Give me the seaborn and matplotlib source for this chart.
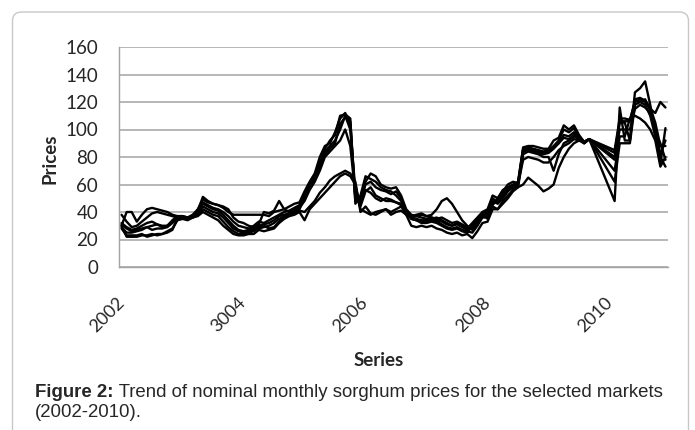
import numpy as np
import pandas as pd
import matplotlib
matplotlib.use("Agg")
import matplotlib.pyplot as plt
import seaborn as sns
from matplotlib.patches import FancyBboxPatch
from matplotlib.transforms import IdentityTransform

nan = np.nan

# monthly categories Jan 2002 .. Dec 2010 (gaps = missing months)
months = pd.date_range("2002-01-01", periods=108, freq="MS")
year_labels = ["2002", "3004", "2006", "2008", "2010"]

market_1 = [30, 40, 40, 33, 38, 42, 43, 42, 41, 40, 38, 37,
            37, 36, 38, 42, 49, 47, 46, 45, 43, 40, 38, 38,
            38, 38, 38, 38, 38, 37, 40, 41, 42, 44, 46, 47,
            55, 62, 68, 80, 88, 90, 98, 108, 112, 104, 50, 46,
            62, 68, 66, 60, 58, 57, 58, 52, 42, 38, 37, 36,
            35, 36, 34, 33, 31, 30, 31, 29, 27, 30, 34, 38,
            38, 45, 50, 56, 58, 60, 62, 87, 88, 88, 87, 86,
            86, 92, 94, 103, 100, 103, 96, 91, 93, nan, nan, nan,
            nan, 48, 116, 92, 92, 127, 130, 135, 118, 100, 75, 101]
market_2 = [38, 33, 29, 30, 33, 36, 39, 40, 39, 38, 37, 36,
            36, 36, 37, 41, 51, 48, 46, 45, 44, 42, 36, 33,
            32, 30, 29, 31, 40, 39, 41, 48, 42, 40, 42, 44,
            52, 60, 66, 76, 86, 92, 96, 110, 111, 108, 46, 52,
            66, 64, 62, 58, 56, 55, 52, 48, 40, 36, 35, 34,
            34, 35, 36, 34, 32, 30, 32, 30, 28, 32, 36, 40,
            42, 52, 50, 55, 60, 62, 61, 86, 87, 86, 85, 84,
            85, 88, 92, 100, 98, 101, 94, 90, 93, nan, nan, nan,
            nan, 85, 108, 108, 107, 120, 122, 120, 115, 112, 120, 116]
market_3 = [31, 28, 26, 27, 28, 29, 30, 31, 30, 30, 33, 36,
            36, 35, 37, 40, 46, 44, 42, 41, 38, 34, 30, 27,
            26, 27, 28, 30, 31, 32, 34, 37, 38, 39, 41, 43,
            48, 56, 62, 70, 80, 84, 88, 92, 100, 88, 52, 44,
            55, 58, 52, 50, 48, 48, 47, 45, 38, 30, 29, 30,
            29, 30, 28, 27, 25, 24, 25, 23, 24, 21, 26, 32,
            33, 42, 42, 46, 50, 55, 58, 82, 84, 83, 82, 80,
            80, 70, 82, 90, 92, 95, 93, 91, 93, nan, nan, nan,
            nan, 62, 90, 90, 90, 118, 120, 118, 110, 95, 80, 73]
market_4 = [29, 25, 25, 26, 27, 29, 27, 28, 28, 29, 32, 35,
            35, 34, 36, 39, 44, 42, 40, 39, 36, 32, 28, 26,
            25, 26, 27, 28, 29, 30, 32, 35, 37, 38, 40, 42,
            50, 58, 64, 74, 84, 88, 92, 100, 110, 100, 56, 48,
            60, 62, 58, 56, 55, 53, 55, 50, 40, 35, 34, 33,
            33, 34, 33, 31, 29, 28, 29, 27, 26, 25, 30, 36,
            36, 48, 46, 50, 55, 58, 60, 84, 85, 84, 83, 82,
            83, 86, 90, 96, 95, 98, 94, 90, 93, nan, nan, nan,
            nan, 78, 105, 105, 92, 122, 123, 121, 116, 105, 88, 88]
market_5 = [30, 22, 22, 22, 23, 23, 24, 23, 24, 25, 27, 35,
            36, 35, 36, 37, 40, 38, 36, 34, 30, 27, 24, 23,
            23, 24, 24, 27, 26, 27, 28, 32, 35, 37, 38, 40,
            34, 42, 46, 50, 54, 58, 62, 66, 68, 66, 60, 42,
            40, 38, 40, 41, 42, 40, 42, 44, 39, 37, 38, 39,
            37, 38, 42, 48, 50, 46, 40, 34, 30, 27, 32, 40,
            40, 46, 48, 52, 56, 58, 58, 60, 65, 62, 59, 55,
            57, 60, 72, 80, 86, 90, 92, 91, 93, nan, nan, nan,
            nan, 70, 95, 95, 108, 110, 108, 105, 100, 92, 73, 80]
market_6 = [28, 23, 23, 23, 24, 22, 23, 24, 24, 26, 28, 34,
            35, 35, 36, 38, 42, 40, 38, 37, 33, 29, 26, 24,
            24, 25, 26, 29, 30, 28, 29, 33, 36, 38, 39, 41,
            40, 44, 48, 54, 58, 63, 66, 68, 70, 68, 62, 40,
            44, 39, 38, 40, 42, 38, 40, 41, 38, 36, 37, 38,
            37, 36, 35, 36, 34, 32, 33, 31, 29, 28, 31, 37,
            40, 44, 42, 48, 52, 56, 60, 78, 80, 79, 78, 76,
            76, 80, 85, 88, 90, 93, 92, 90, 93, nan, nan, nan,
            nan, 80, 100, 100, 100, 115, 118, 116, 112, 98, 90, 78]
market_7 = [32, 29, 27, 28, 30, 32, 33, 31, 29, 30, 34, 37,
            37, 36, 37, 40, 47, 45, 43, 42, 40, 37, 33, 30,
            29, 28, 30, 33, 32, 34, 36, 38, 40, 41, 43, 45,
            53, 60, 65, 72, 82, 86, 90, 104, 109, 106, 48, 50,
            56, 54, 50, 48, 50, 49, 47, 46, 40, 35, 34, 32,
            32, 33, 32, 30, 28, 27, 28, 26, 25, 30, 34, 39,
            35, 50, 47, 53, 57, 59, 61, 85, 86, 85, 84, 83,
            84, 87, 90, 94, 93, 96, 95, 91, 93, nan, nan, nan,
            nan, 83, 106, 106, 106, 121, 120, 122, 114, 100, 82, 92]

wide = pd.DataFrame({
    "month": np.arange(len(months)),
    "m1": market_1, "m2": market_2, "m3": market_3, "m4": market_4,
    "m5": market_5, "m6": market_6, "m7": market_7,
})
df = wide.melt(id_vars="month", var_name="market", value_name="price").dropna()

sns.set_style("white")
plt.rcParams["font.family"] = ["Lato", "DejaVu Sans"]

fig = plt.figure(figsize=(6.95, 4.30), dpi=100)
ax = fig.add_axes([119 / 695, 163 / 430, 549 / 695, 220 / 430])

sns.lineplot(data=df, x="month", y="price", units="market", estimator=None,
             color="black", linewidth=1.7, legend=False, ax=ax)

grey = "#a3a3a3"
ax.set_xlim(-0.5, len(months) - 0.5)
ax.set_ylim(0, 160)
ax.set_yticks(range(0, 161, 20))
ax.yaxis.grid(True, color=grey, linewidth=1.1)
ax.set_axisbelow(True)
for s in ["top", "right"]:
    ax.spines[s].set_visible(False)
for s in ["left", "bottom"]:
    ax.spines[s].set_color(grey)
    ax.spines[s].set_linewidth(1.0)

ax.set_xticks(np.arange(0, len(months), 24))
ax.set_xticklabels(year_labels, rotation=45, ha="right", va="center",
                   rotation_mode="anchor")
ax.set_xticks(np.arange(-0.5, len(months), 1), minor=True)
ax.tick_params(axis="x", which="major", length=0, pad=24, labelsize=13)
ax.tick_params(axis="x", which="minor", length=3.8, color=grey, width=0.8)
ax.tick_params(axis="y", length=5, color=grey, width=1.0, pad=10, labelsize=13.5)
ax.set_xlabel("")
ax.set_ylabel("")

fig.text(50 / 695, 1 - 159 / 430, "Prices", rotation=90, ha="center",
         va="center", fontsize=13.5, fontweight="bold")
fig.text(379 / 695, 1 - 360 / 430, "Series", ha="center", va="center",
         fontsize=13.5, fontweight="bold")

# caption
cap_font = ["Liberation Sans", "DejaVu Sans"]
cap_size = 13.4
t1 = fig.text(35 / 695, 1 - 397 / 430, "Figure 2:", ha="left", va="baseline",
              fontsize=cap_size, fontweight="bold", family=cap_font)
fig.canvas.draw()
bb = t1.get_window_extent(fig.canvas.get_renderer())
fig.text(bb.x1 / 695, 1 - 397 / 430,
         " Trend of nominal monthly sorghum prices for the selected markets",
         ha="left", va="baseline", fontsize=cap_size, family=cap_font)
fig.text(35 / 695, 1 - 417 / 430, "(2002-2010).", ha="left", va="baseline",
         fontsize=cap_size, family=cap_font)

# outer rounded frame
frame = FancyBboxPatch((12.5, -20), 676, 438, boxstyle="round,pad=0,rounding_size=9",
                       transform=IdentityTransform(), fill=False,
                       edgecolor="#c8c8c8", linewidth=1.0)
fig.patches.append(frame)

fig.savefig("out.png", dpi=100)
